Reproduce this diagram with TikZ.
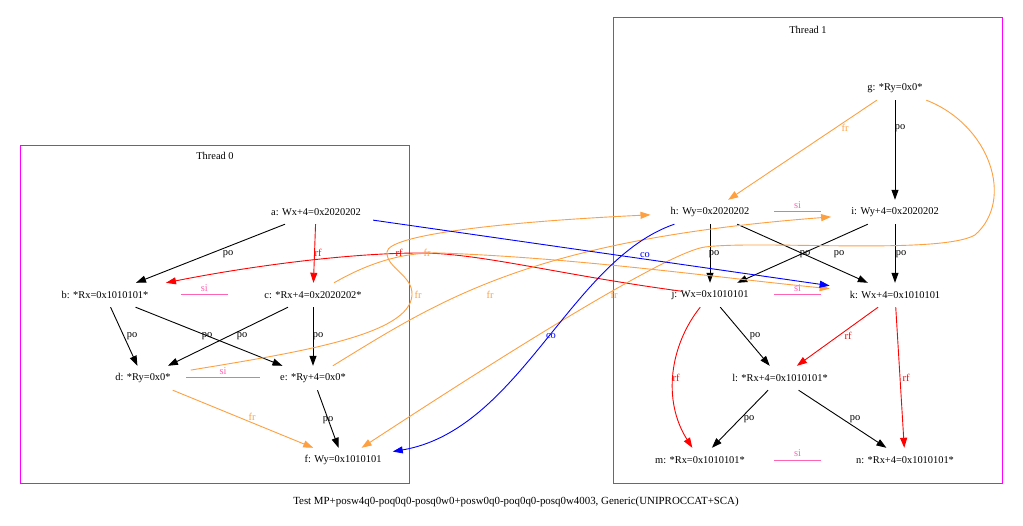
\documentclass[tikz,border=0pt]{standalone}
\usepackage{fontspec}
\setmainfont{Liberation Serif}
\usetikzlibrary{arrows.meta,calc}
\definecolor{frc}{RGB}{255,160,64}
\definecolor{sic}{RGB}{255,100,180}
\definecolor{thc}{RGB}{255,0,255}
\begin{document}
\begin{tikzpicture}[x=1pt,y=-1pt,
  every node/.style={font=\fontsize{10.4}{12}\selectfont},
  ev/.style={rectangle, minimum height=24pt, inner xsep=20pt, inner ysep=0pt},
  lbl/.style={inner sep=0pt},
  edgeb/.style={line width=0.9pt, -{Triangle[length=10pt,width=7pt]}},
  po/.style={edgeb, black},
  rf/.style={edgeb, red},
  fr/.style={edgeb, frc},
  co/.style={edgeb, blue},
  si/.style={line width=1pt, sic},
  thr/.style={draw=thc, line width=1pt}]
\useasboundingbox[fill=white] (0,0) rectangle (1023,526);
% thread boxes
\draw[thr] (20,146) rectangle (409,483);
\draw[thr] (613,18) rectangle (1002,483);
\node (t0) at (215,156) {Thread 0};
\node (t1) at (808,30) {Thread 1};
% events
\node[ev] (a) at (316,212) {a: Wx+4=0x2020202};
\node[ev] (b) at (105,295) {b: *Rx=0x1010101*};
\node[ev] (c) at (313,295) {c: *Rx+4=0x2020202*};
\node[ev] (d) at (143,378) {d: *Ry=0x0*};
\node[ev] (e) at (313,378) {e: *Ry+4=0x0*};
\node[ev] (f) at (343,460) {f: Wy=0x1010101};
\node[ev] (g) at (895,88) {g: *Ry=0x0*};
\node[ev] (h) at (710,212) {h: Wy=0x2020202};
\node[ev] (i) at (895,212) {i: Wy+4=0x2020202};
\node[ev] (j) at (710,295) {j: Wx=0x1010101};
\node[ev] (k) at (895,295) {k: Wx+4=0x1010101};
\node[ev] (l) at (780,378) {l: *Rx+4=0x1010101*};
\node[ev] (m) at (700,460) {m: *Rx=0x1010101*};
\node[ev] (n) at (905,460) {n: *Rx+4=0x1010101*};
% po
\draw[po] (a) -- (b) node[lbl,at={(228,254)}] {po};
\draw[po] (b) -- (d) node[lbl,at={(132,336)}] {po};
\draw[po] (b) -- (e) node[lbl,at={(207,336)}] {po};
\draw[po] (c) -- (d) node[lbl,at={(242,336)}] {po};
\draw[po] (c) -- (e) node[lbl,at={(318,336)}] {po};
\draw[po] (e) -- (f) node[lbl,at={(328,420)}] {po};
\draw[po] (g) -- (i) node[lbl,at={(900,128)}] {po};
\draw[po] (h) -- (j) node[lbl,at={(714,254)}] {po};
\draw[po] (h) -- (k) node[lbl,at={(805,254)}] {po};
\draw[po] (i) -- (j) node[lbl,at={(839,254)}] {po};
\draw[po] (i) -- (k) node[lbl,at={(901,254)}] {po};
\draw[po] (j) -- (l) node[lbl,at={(755,336)}] {po};
\draw[po] (l) -- (m) node[lbl,at={(749,419)}] {po};
\draw[po] (l) -- (n) node[lbl,at={(855,419)}] {po};
% rf
\draw[rf] (a) -- (c) node[lbl,text=red,at={(318,253)}] {rf};
\draw[rf, shorten <=-32pt] (j) .. controls (560,275) and (480,253) .. (420,253)
  .. controls (350,253) and (250,266) .. (b) node[lbl,text=red,at={(399,253)}] {rf};
\draw[rf] (j) .. controls (670,345) and (662,400) .. (m) node[lbl,text=red,at={(676,378)}] {rf};
\draw[rf] (k) -- (l) node[lbl,text=red,at={(848,336)}] {rf};
\draw[rf] (k) -- (n) node[lbl,text=red,at={(906,378)}] {rf};
% fr
\draw[fr] (g) -- (h) node[lbl,text=frc,at={(845,128)}] {fr};
\draw[fr] (d) -- (f) node[lbl,text=frc,at={(252,417)}] {fr};
\draw[fr] (d) .. controls (300,352) and (410,335) .. (412,295)
  .. controls (413,275) and (386,268) .. (387,252)
  .. controls (388,235) and (500,222) .. (h) node[lbl,text=frc,at={(418,295)}] {fr};
\draw[fr] (c) .. controls (370,262) and (405,252) .. (440,253)
  .. controls (580,258) and (720,278) .. (k) node[lbl,text=frc,at={(427,253)}] {fr};
\draw[fr] (e) .. controls (440,300) and (530,240) .. (i) node[lbl,text=frc,at={(490,295)}] {fr};
\draw[fr] (g) .. controls (990,125) and (1015,200) .. (975,235)
  .. controls (940,255) and (760,240) .. (705,247)
  .. controls (675,251) and (560,318) .. (f) node[lbl,text=frc,at={(614,295)}] {fr};
% co
\draw[co, shorten <=-8pt] (a) -- (k) node[lbl,text=blue,at={(645,255)}] {co};
\draw[co, shorten >=-9pt] (h) .. controls (570,260) and (520,430) .. (f) node[lbl,text=blue,at={(551,336)}] {co};
% si
\draw[si] ($(b)!0.365!(c)$) -- ($(b)!0.59!(c)$) node[midway,above=3pt,lbl,text=sic] {si};
\draw[si] ($(d)!0.253!(e)$) -- ($(d)!0.688!(e)$) node[midway,above=3pt,lbl,text=sic] {si};
\draw[si] ($(h)!0.346!(i)$) -- ($(h)!0.6!(i)$) node[midway,above=3pt,lbl,text=sic] {si};
\draw[si] ($(j)!0.346!(k)$) -- ($(j)!0.6!(k)$) node[midway,above=3pt,lbl,text=sic] {si};
\draw[si] ($(m)!0.361!(n)$) -- ($(m)!0.59!(n)$) node[midway,above=3pt,lbl,text=sic] {si};
% caption
\node[font=\fontsize{10.9}{12}\selectfont] (cap) at (516,502) {Test MP+posw4q0-poq0q0-posq0w0+posw0q0-poq0q0-posq0w4003, Generic(UNIPROCCAT+SCA)};
\end{tikzpicture}
\end{document}
